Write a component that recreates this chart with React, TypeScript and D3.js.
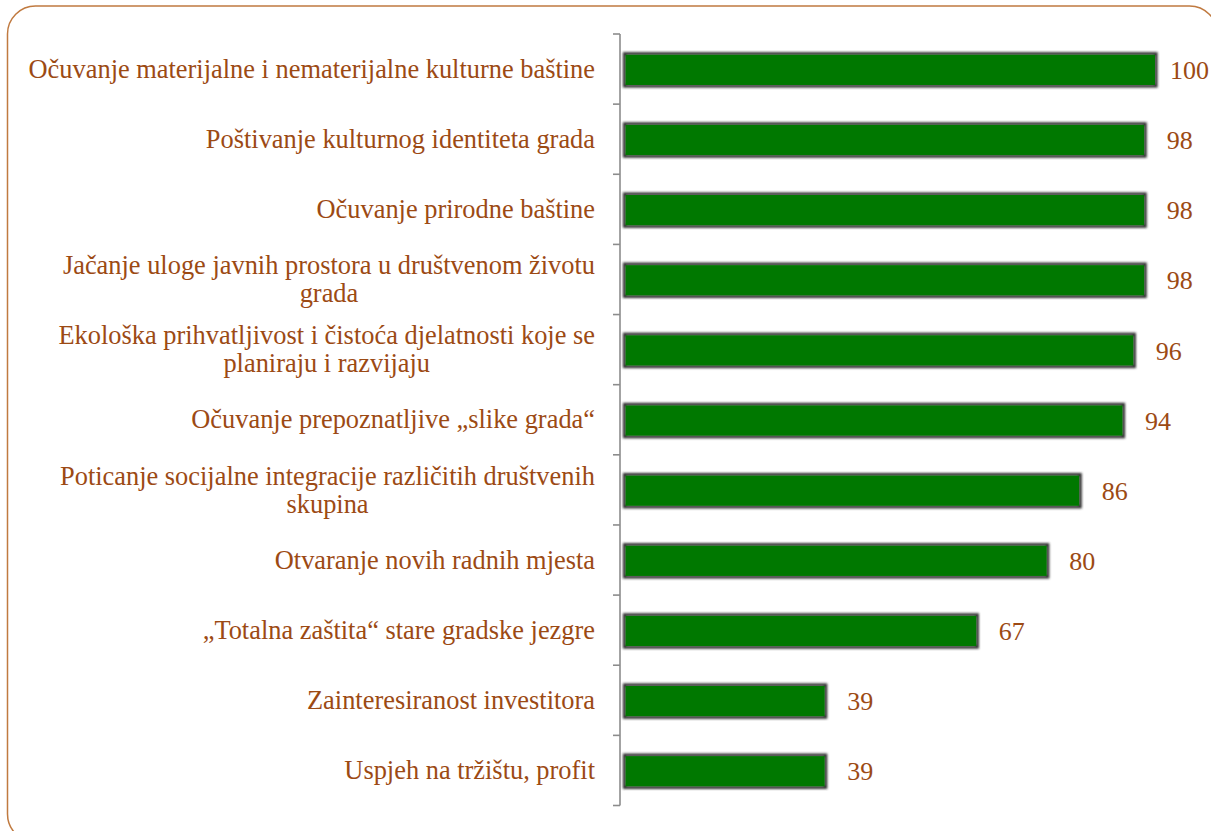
import React, { useEffect, useRef } from "react";
import * as d3 from "d3";

const categories: string[] = [
  "Očuvanje materijalne i nematerijalne kulturne baštine",
  "Poštivanje kulturnog identiteta grada",
  "Očuvanje prirodne baštine",
  "Jačanje uloge javnih prostora u društvenom životu grada",
  "Ekološka prihvatljivost i čistoća djelatnosti koje se planiraju i razvijaju",
  "Očuvanje prepoznatljive „slike grada“",
  "Poticanje socijalne integracije različitih društvenih skupina",
  "Otvaranje novih radnih mjesta",
  "„Totalna zaštita“ stare gradske jezgre",
  "Zainteresiranost investitora",
  "Uspjeh na tržištu, profit",
];

const labelLines: string[][] = [
  ["Očuvanje materijalne i nematerijalne kulturne baštine"],
  ["Poštivanje kulturnog identiteta grada"],
  ["Očuvanje prirodne baštine"],
  ["Jačanje uloge javnih prostora u društvenom životu", "grada"],
  ["Ekološka prihvatljivost i čistoća djelatnosti koje se", "planiraju i razvijaju"],
  ["Očuvanje prepoznatljive „slike grada“"],
  ["Poticanje socijalne integracije različitih društvenih", "skupina"],
  ["Otvaranje novih radnih mjesta"],
  ["„Totalna zaštita“ stare gradske jezgre"],
  ["Zainteresiranost investitora"],
  ["Uspjeh na tržištu, profit"],
];

const values: number[] = [100, 98, 98, 98, 96, 94, 86, 80, 67, 39, 39];

const W = 1211;
const H = 831;
const TEXT = "#9c4a14";
const FONT = "Liberation Serif";

export default function App() {
  const ref = useRef<SVGSVGElement>(null);

  useEffect(() => {
    const svg = d3.select(ref.current);
    svg.selectAll("*").remove();

    const defs = svg.append("defs");
    const f = defs.append("filter").attr("id", "blur").attr("x", "-5%").attr("y", "-40%").attr("width", "110%").attr("height", "180%");
    f.append("feGaussianBlur").attr("stdDeviation", 1.2);

    // frame
    svg.append("rect")
      .attr("x", 7.5).attr("y", 6).attr("width", 1210).attr("height", 836)
      .attr("rx", 28).attr("ry", 28)
      .attr("fill", "none").attr("stroke", "#c07a40").attr("stroke-width", 1.5);

    const y = d3.scaleBand<string>().domain(categories).range([34, 805.5]).paddingInner(0.54).paddingOuter(0.27);
    const x = d3.scaleLinear().domain([0, 100]).range([614.5, 1156]);
    const step = y.step();
    const axisX = x(0) + 5.5;
    const top = y.range()[0];

    // axis
    const axis = svg.append("g").attr("stroke", "#8c8c8c").attr("stroke-width", 1.6).attr("fill", "none");
    axis.append("line").attr("x1", axisX).attr("x2", axisX).attr("y1", top).attr("y2", y.range()[1]);
    d3.range(categories.length + 1).forEach((i) => {
      const yy = top + i * step;
      axis.append("line").attr("x1", axisX - 7).attr("x2", axisX).attr("y1", yy).attr("y2", yy);
    });

    // bars
    const bars = svg.append("g");
    categories.forEach((c, i) => {
      const x0 = axisX + 4.5;
      const w = x(values[i]) - x0;
      const by = y(c)! + 0.8;
      const bh = y.bandwidth();
      bars.append("rect")
        .attr("x", x0).attr("y", by).attr("width", w).attr("height", bh)
        .attr("fill", "none").attr("stroke", "#303030").attr("stroke-width", 3.2)
        .attr("filter", "url(#blur)");
      bars.append("rect")
        .attr("x", x0 + 1).attr("y", by + 1).attr("width", w - 2).attr("height", bh - 2)
        .attr("fill", "#007800");
    });

    // value labels
    const vl = svg.append("g");
    categories.forEach((c, i) => {
      vl.append("text")
        .attr("font-family", FONT)
        .attr("font-size", 26)
        .attr("fill", TEXT)
        .attr("x", Math.min(x(values[i]) + 21.5, 1170))
        .attr("y", y(c)! + 0.8 + y.bandwidth() / 2)
        .attr("dy", "0.35em")
        .text(String(values[i]));
    });

    // category labels
    const cl = svg.append("g");
    const rightEdge = 595;
    const lineH = 28;
    categories.forEach((c, i) => {
      const lines = labelLines[i];
      const cy = y(c)! + y.bandwidth() / 2;
      const g = cl.append("g");
      const texts = lines.map((ln, j) =>
        g.append("text")
          .attr("font-family", FONT)
          .attr("font-size", 26.4)
          .attr("fill", TEXT)
          .attr("y", cy + (j - (lines.length - 1) / 2) * lineH)
          .attr("dy", "0.33em")
          .attr("text-anchor", "middle")
          .text(ln)
      );
      const maxW = d3.max(texts, (t) => (t.node() as SVGTextElement).getComputedTextLength()) || 0;
      texts.forEach((t) => t.attr("x", rightEdge - maxW / 2));
    });
  }, []);

  return (
    <svg
      ref={ref}
      width={W}
      height={H}
      style={{ position: "absolute", left: 0, top: 0, background: "#fff" }}
    />
  );
}
